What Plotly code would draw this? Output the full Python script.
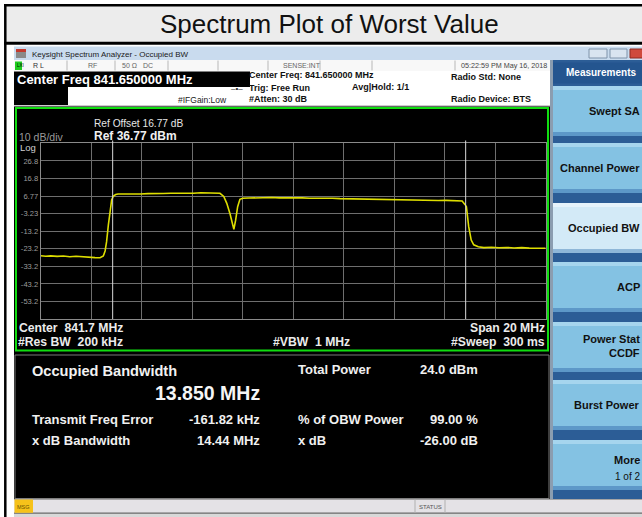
import plotly.graph_objects as go

# ---------------- data ----------------
freq_mhz = [831.65, 831.85, 832.05, 832.3, 832.55, 832.8, 833.05, 833.3, 833.55, 833.8,
            834.0, 834.07, 834.13, 834.2, 834.26, 834.33, 834.39, 834.46, 834.53, 834.62,
            834.71, 835.0, 835.3, 835.6, 835.9, 836.2, 836.5, 836.8, 837.1, 837.4,
            837.7, 838.0, 838.3, 838.6, 838.75, 838.9, 839.02, 839.15, 839.24, 839.30,
            839.37, 839.45, 839.54, 839.65, 839.9, 840.2, 840.5, 840.8, 841.1, 841.4,
            841.7, 842.0, 842.3, 842.6, 842.9, 843.2, 843.5, 843.8, 844.1, 844.4,
            844.7, 845.0, 845.3, 845.6, 845.9, 846.2, 846.5, 846.8, 847.1, 847.4,
            847.7, 848.0, 848.2, 848.34, 848.45, 848.51, 848.6, 848.7, 848.8, 848.98,
            849.2, 849.5, 849.8, 850.1, 850.4, 850.7, 851.0, 851.3, 851.65]
level_dbm = [-27.2, -27.5, -27.3, -27.6, -27.4, -27.8, -27.5, -27.9, -28.1, -28.3,
             -28.4, -28.0, -27.4, -24.5, -19.2, -9.7, -1.2, 4.5, 6.8, 7.6,
             7.9, 7.8, 8.0, 7.9, 8.1, 8.0, 8.2, 8.3, 8.2, 8.4,
             8.3, 8.6, 8.5, 8.7, 8.3, 6.5, 2.6, -3.5, -9.5, -12.2,
             -7.0, 0.7, 4.9, 5.5, 5.6, 5.8, 5.7, 5.9, 5.7, 5.8,
             5.6, 5.7, 5.5, 5.6, 5.4, 5.5, 5.3, 5.2, 5.3, 5.0,
             5.1, 4.8, 4.9, 4.7, 4.6, 4.7, 4.4, 4.5, 4.3, 4.2,
             4.3, 4.1, 4.1, 3.9, 2.0, 0.7, -10.7, -18.3, -21.0, -22.1,
             -22.6, -22.4, -22.7, -22.5, -22.8, -22.6, -22.9, -22.8, -23.0]

center_mhz = 841.65
span_mhz = 20.0
ref_dbm = 36.77
db_per_div = 10.0
y_tick_labels = ["26.8", "16.8", "6.77", "-3.23", "-13.2", "-23.2", "-33.2", "-43.2", "-53.2"]
obw_marker_mhz = [834.50, 848.48]

title_text = "Spectrum Plot of Worst Value"
menu_buttons = [["Swept SA"], ["Channel Power"], ["Occupied BW"], ["ACP"],
                ["Power Stat", "CCDF"], ["Burst Power"], ["More", "1 of 2"]]
selected_button = "Occupied BW"

readout_left = [("Transmit Freq Error", "-161.82 kHz"), ("x dB Bandwidth", "14.44 MHz")]
readout_right = [("% of OBW Power", "99.00 %"), ("x dB", "-26.00 dB")]

# ---------------- helpers ----------------
W, H = 642, 517
F = "Liberation Sans, Arial, sans-serif"
shapes = []
annots = []


def px(x):
    return x / W


def py(y):
    return 1 - y / H


def rect(x0, y0, x1, y1, fill, line=None, lw=0, layer="below"):
    shapes.append(dict(type="rect", xref="paper", yref="paper",
                       x0=px(x0), x1=px(x1), y0=py(y1), y1=py(y0),
                       fillcolor=fill, layer=layer,
                       line=dict(width=lw, color=line if line else "rgba(0,0,0,0)")))


def hline(x0, x1, y, color, lw=1, layer="below"):
    shapes.append(dict(type="line", xref="paper", yref="paper",
                       x0=px(x0), x1=px(x1), y0=py(y), y1=py(y),
                       line=dict(width=lw, color=color), layer=layer))


def vline(x, y0, y1, color, lw=1, layer="below"):
    shapes.append(dict(type="line", xref="paper", yref="paper",
                       x0=px(x), x1=px(x), y0=py(y0), y1=py(y1),
                       line=dict(width=lw, color=color), layer=layer))


def text(x, y, s, size, color, bold=False, anchor="left", family=F):
    annots.append(dict(xref="paper", yref="paper", x=px(x), y=py(y),
                       text=("<b>%s</b>" % s) if bold else s, showarrow=False,
                       xanchor=anchor, yanchor="middle", borderpad=0,
                       font=dict(size=size, color=color, family=family)))


# ---------------- outer report frame ----------------
rect(5, 6, 642, 42, "#ececec")
hline(4, 642, 5.3, "#000000", 2.5)
hline(4, 642, 43.3, "#000000", 3)
vline(5.3, 4, 517, "#000000", 2.5)
text(330, 24, title_text, 26, "#111111", anchor="center")

# ---------------- analyzer window ----------------
# window title bar
rect(14, 46.5, 642, 60, "#c9dbee")
text(31, 54, "Keysight Spectrum Analyzer - Occupied BW", 8, "#1a1a1a")
rect(16, 49, 26, 58, "#8a8a8a")
rect(16, 49, 26, 52, "#c43a2f")
rect(589, 49, 607, 58, "#d9e4f0", "#7f93aa", 1)
rect(610, 49, 627, 58, "#d9e4f0", "#7f93aa", 1)
rect(630, 49, 645, 58, "#cf4a3c", "#8f2a20", 1)

# status row
rect(14, 60, 550, 71, "#f8f8f8")
for sx in [67, 115, 168, 218, 268, 320, 372, 455]:
    vline(sx, 60.5, 70.5, "#b8b8b8")
rect(15, 61.5, 22, 70, "#1fcc1f")
text(15.5, 66, "LXI", 4.5, "#000000")
text(32, 66, "R L", 7, "#333333")
text(87, 66, "RF", 7, "#666666")
text(121, 66, "50 Ω", 7, "#666666")
text(142, 66, "DC", 7, "#666666")
text(282, 66, "SENSE:INT", 7, "#666666")
text(548, 66, "05:22:59 PM May 16, 2018", 7.2, "#444444", anchor="right")

# info area
rect(14, 71, 550, 106, "#ffffff")
rect(14, 71.5, 250, 87, "#000000")
rect(14, 87, 68, 105, "#000000")
text(16, 79.3, "Center Freq 841.650000 MHz", 13, "#ffffff", bold=True)
text(248, 75.5, "Center Freq: 841.650000 MHz", 9, "#111111", bold=True)
text(248, 87.5, "Trig: Free Run", 9, "#111111", bold=True)
text(248, 99, "#Atten: 30 dB", 9, "#111111", bold=True)
text(351, 86.7, "Avg|Hold: 1/1", 9, "#111111", bold=True)
text(450, 76.5, "Radio Std: None", 9, "#111111", bold=True)
text(450, 99, "Radio Device: BTS", 9, "#111111", bold=True)
text(177, 100, "#IFGain:Low", 8.5, "#222222")
text(230, 89, "‒•‒", 8, "#222222")
hline(14, 550, 106, "#9a9a9a", 1)

# main display area (black)
rect(14, 106.5, 550, 499, "#000000")
rect(16, 108, 548, 350.5, "#000000", "#10dd10", 2)
rect(15, 355, 549, 498.5, "#000000", "#7a7a7a", 1)

text(93, 123.5, "Ref Offset 16.77 dB", 10.2, "#e6e6e6")
text(93, 136, "Ref 36.77 dBm", 12, "#f0f0f0", bold=True)
text(18, 137, "10 dB/div", 10.5, "#9a9a9a")
text(18.5, 147, "Log", 9.5, "#d0d0d0")

text(18, 327.7, "Center  841.7 MHz", 12.2, "#ececec", bold=True)
text(17, 341.7, "#Res BW  200 kHz", 12.2, "#ececec", bold=True)
text(272, 341.7, "#VBW  1 MHz", 12.2, "#ececec", bold=True)
text(546, 327.7, "Span 20 MHz", 12.2, "#ececec", bold=True, anchor="right")
text(546, 341.7, "#Sweep  300 ms", 12.2, "#ececec", bold=True, anchor="right")

# readouts
text(31, 370.7, "Occupied Bandwidth", 14.6, "#f2f2f2", bold=True)
text(261, 392.5, "13.850 MHz", 19.5, "#f5f5f5", bold=True, anchor="right")
for i, (lab, val) in enumerate(readout_left):
    yy = 419 + i * 21.7
    text(31, yy, lab, 13, "#f0f0f0", bold=True)
    text(261, yy, val, 13, "#f0f0f0", bold=True, anchor="right")
text(297, 369, "Total Power", 13, "#f0f0f0", bold=True)
text(479, 369, "24.0 dBm", 13, "#f0f0f0", bold=True, anchor="right")
for i, (lab, val) in enumerate(readout_right):
    yy = 419 + i * 21.7
    text(297, yy, lab, 13, "#f0f0f0", bold=True)
    text(479, yy, val, 13, "#f0f0f0", bold=True, anchor="right")

# bottom status bar
rect(14, 499, 642, 513, "#e4e2e6")
hline(14, 642, 499.2, "#8a8a8a", 1)
hline(14, 642, 513.3, "#6a6a6a", 1.5)
rect(14.5, 499.5, 33, 512.8, "#f6c21a")
text(15.5, 506.5, "MSG", 5.5, "#6a5200")
vline(415, 499.5, 513, "#b0b0b0")
vline(445, 499.5, 513, "#b0b0b0")
text(430, 507, "STATUS", 6, "#555555", anchor="center")
rect(14, 513.8, 642, 517, "#d8d8d8")

# right-hand menu panel
rect(550, 60, 642, 499, "#2c5d96")
rect(550, 60, 553, 499, "#8b9db0")
rect(553, 62.5, 642, 83.5, "#24558f")
text(565, 73, "Measurements", 10, "#ffffff", bold=True)
btn_tops = [86, 143, 203, 262, 322, 380, 440]
for top, lines in zip(btn_tops, menu_buttons):
    sel = lines[0] == selected_button
    rect(553, top, 645, top + 50, "#d3eaf7" if sel else "#84c2e3")
    rect(553, top, 645, top + 4, "#e6f3fb" if sel else "#a6d5ee")
    rect(553, top + 46, 645, top + 50, "#8fb7d8" if sel else "#5d98c8")
    cy = top + 25
    if len(lines) == 1:
        text(641, cy, lines[0], 11, "#111111", bold=True, anchor="right")
    elif lines[0] == "More":
        text(641, cy - 5, lines[0], 11, "#111111", bold=True, anchor="right")
        text(641, cy + 11, lines[1], 10, "#111111", anchor="right")
    else:
        text(641, cy - 8, lines[0], 11, "#111111", bold=True, anchor="right")
        text(641, cy + 6, lines[1], 11, "#111111", bold=True, anchor="right")

# ---------------- spectrum plot ----------------
x_lo = center_mhz - span_mhz / 2
x_hi = center_mhz + span_mhz / 2
y_lo = ref_dbm - 10 * db_per_div
x_grid = [x_lo + i * span_mhz / 10 for i in range(11)]
y_grid = [ref_dbm - (i + 1) * db_per_div for i in range(9)]

for m in obw_marker_mhz:
    shapes.append(dict(type="line", xref="x", yref="paper", x0=m, x1=m,
                       y0=py(319), y1=py(140.5), layer="above",
                       line=dict(color="#d8d8d8", width=1)))

fig = go.Figure()
fig.add_trace(go.Scatter(x=freq_mhz, y=level_dbm, mode="lines",
                         line=dict(color="#dede00", width=1.6),
                         hoverinfo="skip", showlegend=False))

fig.update_layout(
    width=W, height=H, autosize=False,
    margin=dict(l=0, r=0, t=0, b=0, pad=0),
    paper_bgcolor="#ffffff", plot_bgcolor="#000000",
    shapes=shapes, annotations=annots, showlegend=False,
    font=dict(family=F),
    xaxis=dict(domain=[px(40.7), px(545.7)], range=[x_lo, x_hi],
               tickvals=x_grid, showticklabels=False, ticks="",
               showgrid=True, gridcolor="#6e6e6e", gridwidth=1,
               zeroline=False, showline=True, linecolor="#8a8a8a", linewidth=1,
               mirror=True, fixedrange=True),
    yaxis=dict(domain=[py(319), py(143.3)], range=[y_lo, ref_dbm],
               tickvals=y_grid, ticktext=y_tick_labels, ticks="",
               tickfont=dict(size=7.6, color="#9c9c9c", family=F),
               showgrid=True, gridcolor="#6e6e6e", gridwidth=1,
               zeroline=False, showline=True, linecolor="#8a8a8a", linewidth=1,
               mirror=True, fixedrange=True),
)

fig.write_html("out.html", config={"displayModeBar": False},
               post_script="document.body.style.margin='0';document.body.style.overflow='hidden';")
